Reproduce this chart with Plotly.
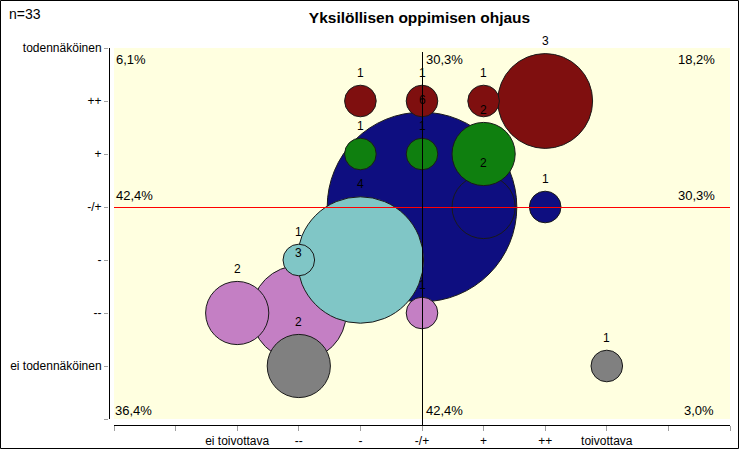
import plotly.graph_objects as go

# ---- data ----
title_text = "Yksilöllisen oppimisen ohjaus"
n_text = "n=33"

x_tick_vals = [-5, -4, -3, -2, -1, 0, 1, 2, 3, 4, 5]
x_tick_text = ["", "", "ei toivottava", "--", "-", "-/+", "+", "++", "toivottava", "", ""]
y_tick_vals = [-4, -3, -2, -1, 0, 1, 2, 3]
y_tick_text = ["", "ei todennäköinen", "--", "-", "-/+", "+", "++", "todennäköinen"]

navy_x = [0, 1, 2]
navy_y = [0, 0, 0]
navy_n = [6, 2, 1]

pink_x = [-2, -3, 0]
pink_y = [-2, -2, -2]
pink_n = [3, 2, 1]

teal_x = [-1, -2]
teal_y = [-1, -1]
teal_n = [4, 1]

gray_x = [-2, 3]
gray_y = [-3, -3]
gray_n = [2, 1]

green_x = [1, -1, 0]
green_y = [1, 1, 1]
green_n = [2, 1, 1]

red_x = [2, -1, 0, 1]
red_y = [2, 2, 2, 2]
red_n = [3, 1, 1, 1]

series = [
    (navy_x, navy_y, navy_n, "#0e0e80"),
    (pink_x, pink_y, pink_n, "#c47fc4"),
    (teal_x, teal_y, teal_n, "#80c6c6"),
    (gray_x, gray_y, gray_n, "#808080"),
    (green_x, green_y, green_n, "#0f7f0f"),
    (red_x, red_y, red_n, "#7f0f0f"),
]

# ---- layout geometry (pixels) ----
W, H = 740, 450
ML, MR, MT, MB = 109, 10, 48, 25
plot_w = W - ML - MR
plot_h = H - MT - MB
px_per_count = 31.6  # bubble diameter per respondent

x_min_v, x_max_v = -5, 5
y_min_v, y_max_v = -4, 3
x_unit = (plot_w - 5) / (x_max_v - x_min_v)
y_unit = 53.0
x_range = [x_min_v - 5 / x_unit, x_max_v]
y_range = [y_max_v - plot_h / y_unit, y_max_v]
hx = 0.5 / x_unit  # half pixel, for crisp 1px lines
hy = 0.5 / y_unit

fig = go.Figure()
for xs, ys, ns, col in series:
    fig.add_trace(go.Scatter(
        x=xs, y=ys, mode="markers",
        marker=dict(size=ns, sizemode="diameter", sizeref=1 / px_per_count,
                    color=col, opacity=1, line=dict(color="#1a1a1a", width=1)),
        hoverinfo="skip", showlegend=False,
    ))

annotations = []
for xs, ys, ns, col in series:
    for x, y, n in zip(xs, ys, ns):
        annotations.append(dict(
            x=x, y=y, xref="x", yref="y", text=str(n), showarrow=False,
            yshift=n * px_per_count / 2 + 12.5, xanchor="center", yanchor="middle",
            font=dict(family="Liberation Sans, Arial", size=12, color="black"),
        ))

all_pts = []
for xs, ys, ns, col in series:
    all_pts += list(zip(xs, ys, ns))
total = sum(p[2] for p in all_pts)


def pct(cond):
    v = sum(n for x, y, n in all_pts if cond(x, y)) / total * 100
    return f"{v:.1f}%".replace(".", ",")


pfont = dict(family="Liberation Sans, Arial", size=13, color="black")
quad = [
    (pct(lambda x, y: x < 0 and y > 0), x_min_v, y_max_v, "left", "top", 0, -2),
    (pct(lambda x, y: y > 0), 0, y_max_v, "left", "top", 2, -2),
    (pct(lambda x, y: x > 0 and y > 0), x_max_v, y_max_v, "right", "top", -13, -2),
    (pct(lambda x, y: x < 0), x_min_v, 0, "left", "bottom", 0, 2),
    (pct(lambda x, y: x > 0), x_max_v, 0, "right", "bottom", -13, 2),
    (pct(lambda x, y: x < 0 and y < 0), x_min_v, y_min_v, "left", "bottom", -1, -1),
    (pct(lambda x, y: y < 0), 0, y_min_v, "left", "bottom", 2, -1),
    (pct(lambda x, y: x > 0 and y < 0), x_max_v, y_min_v, "right", "bottom", -14, -1),
]
for t, x, y, xa, ya, dx, dy in quad:
    annotations.append(dict(x=x, y=y, xref="x", yref="y", text=t, showarrow=False,
                            xanchor=xa, yanchor=ya, xshift=dx, yshift=dy, font=pfont))


def px_to_paper_x(px):
    return (px - ML) / plot_w


def px_to_paper_y(py):
    return (H - MB - py) / plot_h


def yv_to_paper(v):
    return (v - y_range[0]) / (y_range[1] - y_range[0])


def xv_to_paper(v):
    return (v - x_range[0]) / (x_range[1] - x_range[0])


annotations.append(dict(x=px_to_paper_x(7), y=px_to_paper_y(4), xref="paper", yref="paper",
                        text=n_text, showarrow=False, xanchor="left", yanchor="top",
                        font=dict(family="Liberation Sans, Arial", size=14, color="black")))

shapes = [
    dict(type="rect", xref="x", yref="y", x0=x_min_v, x1=x_max_v, y0=y_min_v, y1=y_max_v,
         fillcolor="#ffffe0", line=dict(width=0), layer="below"),
    dict(type="line", xref="paper", yref="paper", x0=px_to_paper_x(ML + 0.5), x1=px_to_paper_x(ML + 0.5),
         y0=yv_to_paper(y_min_v), y1=1, line=dict(color="black", width=1)),
    dict(type="line", xref="paper", yref="paper", x0=xv_to_paper(x_min_v), x1=1,
         y0=px_to_paper_y(H - MB + 0.5), y1=px_to_paper_y(H - MB + 0.5), line=dict(color="black", width=1)),
    dict(type="line", xref="x", yref="y", x0=x_min_v, x1=x_max_v, y0=-hy, y1=-hy,
         line=dict(color="#ff0000", width=1.2), layer="above"),
    dict(type="line", xref="x", yref="y", x0=hx, x1=hx, y0=y_range[0], y1=y_max_v - 4 / y_unit,
         line=dict(color="black", width=1), layer="above"),
    dict(type="rect", xref="paper", yref="paper",
         x0=px_to_paper_x(0.5), x1=px_to_paper_x(W - 1.5),
         y0=px_to_paper_y(H - 1.5), y1=px_to_paper_y(0.5),
         line=dict(color="black", width=1), fillcolor="rgba(0,0,0,0)"),
]

fig.update_layout(
    width=W, height=H,
    margin=dict(l=ML, r=MR, t=MT, b=MB, pad=0, autoexpand=False),
    paper_bgcolor="white", plot_bgcolor="white",
    title=dict(text=f"<b>{title_text}</b>", x=0.5, xref="paper", xanchor="center",
               y=1 - 18 / H, yref="container", yanchor="middle",
               font=dict(family="Liberation Sans, Arial", size=15.5, color="black")),
    xaxis=dict(range=x_range, tickmode="array", tickvals=x_tick_vals, ticktext=x_tick_text,
               ticks="outside", ticklen=5, tickcolor="#a0a0a0", tickwidth=1,
               showgrid=False, zeroline=False, showline=False, automargin=False,
               tickfont=dict(family="Liberation Sans, Arial", size=12, color="black")),
    yaxis=dict(range=y_range, tickmode="array", tickvals=y_tick_vals, ticktext=y_tick_text,
               ticks="outside", ticklen=4, tickcolor="#a0a0a0", tickwidth=1,
               showgrid=False, zeroline=False, showline=False, automargin=False,
               tickfont=dict(family="Liberation Sans, Arial", size=12, color="black")),
    shapes=shapes,
    annotations=annotations,
    showlegend=False,
)

fig.write_html("out.html", config={"displayModeBar": False},
               post_script="document.body.style.margin='0';document.body.style.overflow='hidden';")
